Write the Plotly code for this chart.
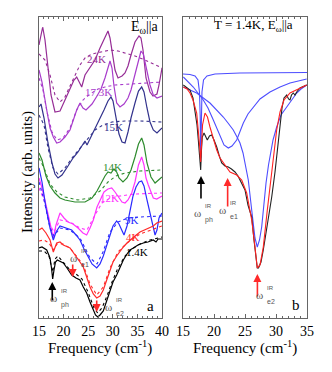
import plotly.graph_objects as go

# ---- panel a: spectra at several temperatures (freq in cm-1, intensity arb.) ----
f_24 = [15.00, 15.75, 16.22, 16.63, 17.44, 18.25, 19.27, 20.28, 21.30, 22.11, 22.66, 23.13, 23.68, 24.35, 25.37, 26.38,
        27.40, 28.21, 28.76, 29.02, 29.43, 29.84, 30.45, 31.06, 31.87, 32.48, 33.09, 33.70, 34.51, 35.33, 35.73, 36.14,
        36.75, 37.56, 38.17, 38.98, 39.39, 40.00]
i_24 = [275, 293, 280, 260, 225, 208, 209, 220, 232, 240, 243, 238, 233, 245, 252, 260,
        272, 280, 287, 289, 282, 268, 250, 242, 244, 247, 254, 265, 278, 284, 282, 270,
        242, 228, 224, 226, 235, 252]
f_24d = [15.00, 16.22, 17.24, 18.25, 19.27, 20.28, 21.30, 22.32, 23.33, 24.35, 25.77, 27.60, 29.43, 31.06, 32.48, 34.51, 36.54, 38.59, 40.00]
i_24d = [266, 260, 245, 225, 218, 223, 234, 245, 255, 262, 266, 268, 270, 269, 267, 264, 260, 255, 252]

f_17 = [15.00, 15.61, 16.57, 17.24, 17.91, 18.60, 19.27, 20.28, 21.30, 22.11, 22.66, 23.33, 23.94, 24.55, 25.77, 26.79,
        27.60, 28.41, 29.02, 29.43, 29.84, 30.24, 30.79, 31.46, 32.28, 33.09, 33.70, 34.51, 35.22, 35.73, 36.20, 36.75,
        37.56, 38.23, 38.98, 40.00]
i_17 = [250, 238, 210, 192, 183, 177, 178, 183, 190, 203, 210, 217, 212, 210, 216, 224,
        231, 242, 254, 259, 252, 234, 217, 213, 216, 222, 230, 246, 262, 269, 266, 254,
        235, 225, 222, 224]
f_17d = [15.00, 15.81, 16.63, 17.64, 18.66, 19.88, 21.30, 22.66, 23.94, 25.37, 27.00, 28.41, 30.45, 33.50, 36.54, 40.00]
i_17d = [242, 230, 208, 188, 180, 182, 192, 210, 220, 226, 231, 233, 235, 236, 237, 238]

f_15 = [15.00, 15.41, 16.02, 16.83, 17.64, 18.25, 18.86, 19.67, 20.89, 21.91, 22.93, 23.74, 24.35, 24.76, 25.37, 26.38,
        27.40, 28.21, 29.02, 29.63, 30.04, 30.65, 31.26, 31.87, 32.48, 33.09, 33.70, 34.51, 35.22, 35.87, 36.34, 36.95,
        37.56, 38.23, 38.98, 40.00]
i_15 = [213, 216, 202, 177, 157, 146, 142, 145, 154, 162, 168, 174, 179, 175, 181, 192,
        202, 210, 219, 223, 219, 202, 186, 178, 177, 188, 202, 217, 229, 233, 228, 212,
        198, 190, 187, 192]
f_15d = [15.00, 16.02, 16.83, 17.85, 18.86, 20.28, 21.71, 23.33, 24.96, 26.38, 28.01, 29.84, 32.48, 35.53, 40.00]
i_15d = [205, 195, 172, 152, 146, 152, 162, 172, 182, 190, 195, 198, 199, 199, 198]

f_14 = [15.00, 15.61, 16.42, 17.24, 18.25, 19.27, 20.28, 22.32, 24.35, 25.77, 26.79, 27.60, 28.41, 29.02, 29.63, 30.24,
        30.79, 31.26, 32.07, 32.89, 33.70, 34.51, 35.22, 35.87, 36.34, 36.95, 37.76, 38.59, 39.19, 40.00]
i_14 = [167, 160, 144, 134, 127, 122, 120, 118, 118, 122, 129, 137, 144, 148, 147, 151,
        148, 142, 138, 142, 150, 163, 176, 182, 175, 157, 143, 137, 140, 143]
f_14d = [15.00, 16.02, 17.24, 18.66, 20.28, 22.93, 25.37, 27.40, 29.02, 30.65, 32.48, 35.53, 40.00]
i_14d = [162, 152, 136, 128, 123, 120, 122, 129, 138, 144, 147, 149, 150]

f_12 = [15.00, 15.61, 16.42, 17.24, 17.91, 18.46, 19.27, 20.08, 20.89, 21.91, 22.93, 23.94, 24.69, 25.37, 26.04, 26.79,
        27.40, 28.21, 29.02, 29.78, 30.45, 31.12, 31.87, 32.48, 33.09, 33.84, 34.51, 35.22, 35.87, 36.34, 36.75, 37.22,
        37.76, 38.23, 38.93, 40.00]
i_12 = [142, 132, 115, 95, 82, 95, 107, 102, 98, 96, 92, 87, 85, 92, 100, 113,
        120, 128, 131, 132, 128, 123, 118, 117, 120, 127, 138, 155, 163, 155, 142, 135,
        127, 122, 121, 124]
f_12d = [15.00, 16.02, 17.24, 18.05, 19.27, 21.30, 23.33, 24.76, 26.38, 27.80, 29.43, 31.46, 34.51, 40.00]
i_12d = [132, 120, 95, 88, 100, 98, 92, 90, 105, 117, 122, 124, 126, 127]

f_9 = [15.00, 15.61, 16.42, 17.24, 17.91, 18.46, 19.27, 20.28, 21.65, 22.52, 23.33, 24.15, 25.02, 25.77, 26.73, 27.40,
       28.07, 28.82, 29.43, 30.04, 30.79, 31.26, 31.81, 32.28, 32.89, 33.50, 34.11, 34.72, 35.33, 35.87, 36.34, 36.95,
       37.56, 38.17, 38.59, 38.98, 39.39, 40.00]
i_9 = [152, 138, 112, 92, 80, 88, 94, 92, 90, 85, 80, 71, 63, 56, 52, 56,
       64, 76, 85, 94, 99, 96, 90, 85, 94, 110, 124, 133, 138, 139, 134, 120,
       106, 92, 85, 90, 102, 107]
f_9d = [15.00, 16.02, 17.24, 18.05, 19.27, 21.30, 23.33, 25.37, 26.79, 28.01, 29.43, 31.06, 33.09, 35.53, 40.00]
i_9d = [138, 120, 92, 84, 92, 90, 82, 62, 56, 68, 88, 98, 102, 103, 104]

f_4 = [15.00, 15.61, 16.42, 17.24, 17.91, 18.60, 19.27, 19.94, 21.30, 21.91, 22.66, 23.33, 24.00, 24.69, 25.37, 26.04,
       26.73, 27.40, 28.07, 28.76, 29.43, 30.04, 30.79, 31.46, 32.14, 32.89, 33.50, 34.51, 35.53, 36.54, 37.56, 38.23,
       38.93, 39.39, 40.00]
i_4 = [90, 92, 87, 80, 68, 77, 78, 75, 72, 68, 62, 58, 53, 42, 33, 26,
       22, 24, 30, 40, 50, 58, 64, 69, 73, 77, 80, 84, 88, 90, 92, 94,
       97, 98, 99]
f_4d = [15.00, 16.02, 17.03, 17.91, 18.66, 19.88, 21.30, 22.66, 24.00, 25.37, 26.73, 28.07, 29.43, 31.06, 32.89, 35.53, 37.56, 40.00]
i_4d = [79, 80, 77, 70, 76, 76, 72, 64, 55, 36, 25, 33, 52, 68, 77, 86, 90, 94]

f_1 = [15.00, 15.61, 16.57, 17.24, 17.54, 17.78, 18.05, 18.35, 18.72, 19.27, 19.94, 20.69, 21.65, 22.52, 23.33, 24.00,
       24.69, 25.37, 26.04, 26.48, 26.93, 27.40, 28.07, 28.76, 29.43, 30.04, 30.79, 31.46, 32.14, 32.89, 33.50, 34.17,
       35.12, 36.20, 37.15, 38.23, 38.78, 39.19, 40.00]
i_1 = [72, 73, 70, 62, 52, 41, 50, 58, 60, 59, 57, 52, 45, 42, 40, 33,
       27, 18, 10, 5, 3, 5, 9, 20, 30, 38, 45, 53, 60, 66, 70, 72,
       75, 77, 78, 80, 78, 81, 81]
f_1d = [15.00, 16.02, 17.03, 17.78, 18.25, 18.86, 19.88, 21.30, 22.52, 23.74, 24.96, 26.18, 26.93, 27.80, 28.82, 29.84,
        31.06, 32.48, 33.90, 35.53, 37.56, 40.00]
i_1d = [69, 69, 64, 48, 61, 64, 58, 50, 46, 41, 28, 12, 7, 12, 24, 38,
        52, 64, 71, 76, 80, 83]

# ---- panel b: 1.4 K spectrum, fit and three Lorentzian components ----
f_dat = [15.05, 15.65, 16.13, 16.61, 16.94, 17.26, 17.47, 17.66, 17.85, 17.98, 18.11, 18.39, 18.63, 18.92, 19.27, 19.63,
         20.00, 20.44, 20.81, 21.24, 21.77, 22.31, 22.82, 23.39, 23.87, 24.19, 24.47, 25.00, 25.48, 26.08, 26.45, 26.89,
         26.98, 27.18, 27.58, 27.95, 28.31, 28.60, 28.95, 29.31, 29.84, 30.32, 30.65, 30.97, 31.29, 31.73, 32.02, 32.26,
         32.50, 32.79, 33.06, 33.34, 33.87, 34.35, 34.95]
i_dat = [235, 232, 230, 222, 210, 195, 180, 165, 150, 170, 183, 187, 184, 180, 184, 185,
         180, 173, 165, 157, 154, 153, 151, 148, 144, 140, 138, 130, 115, 103, 80, 55,
         52, 52, 58, 70, 83, 95, 110, 123, 148, 175, 195, 212, 222, 225, 221, 220,
         225, 227, 225, 228, 232, 233, 235]
f_fit = [15.05, 15.65, 16.13, 16.61, 17.21, 17.50, 17.74, 17.85, 17.98, 18.15, 18.55, 18.95, 19.35, 19.84, 20.44, 20.97,
         21.50, 22.02, 22.58, 23.66, 24.47, 25.27, 26.08, 26.61, 26.98, 27.42, 27.95, 28.60, 29.03, 29.52, 30.11, 30.65,
         31.29, 32.26, 33.34, 34.19, 34.95]
i_fit = [233, 231, 227, 220, 207, 190, 170, 158, 175, 195, 207, 203, 193, 182, 170, 162,
         157, 153, 148, 145, 140, 127, 100, 73, 52, 55, 73, 110, 133, 160, 190, 208,
         220, 227, 230, 233, 235]
f_l1 = [15.00, 16.13, 16.94, 17.42, 17.66, 17.77, 17.85, 17.94, 18.06, 18.31, 18.87, 20.16, 24.19, 35.00]
i_l1 = [246, 245.5, 244, 240, 228, 205, 162, 205, 228, 240, 244, 246, 247, 247.5]
f_l2 = [15.05, 16.66, 18.27, 19.03, 19.89, 20.48, 20.97, 21.61, 22.31, 22.90, 23.66, 24.19, 24.73, 25.48, 26.34, 27.42,
        29.03, 30.65, 32.26, 34.95]
i_l2 = [243, 233, 220, 212, 200, 191, 183, 175, 172, 174, 180, 188, 197, 206, 213, 221,
        228, 233, 237, 241]
f_l3 = [15.05, 17.21, 19.35, 20.48, 21.50, 22.26, 23.11, 23.71, 24.19, 24.68, 25.00, 25.53, 26.08, 26.37, 26.61, 26.98,
        27.34, 27.69, 27.98, 28.39, 28.79, 29.03, 29.52, 30.11, 30.81, 31.73, 32.58, 33.34, 34.03, 34.95]
i_l3 = [233, 227, 217, 210, 203, 197, 190, 183, 177, 167, 157, 140, 110, 92, 82, 73,
        80, 93, 112, 137, 155, 163, 180, 193, 205, 213, 220, 227, 231, 235]

SERIF = "Liberation Serif, Times New Roman, DejaVu Serif, serif"
SANS = "Liberation Sans, Arial, sans-serif"
C24, C17, C15, C14, C12, C9, C4, C1 = "#962d96", "#a83ccc", "#32328c", "#2e8b2e", "#ff33ff", "#2a2aff", "#ff2a2a", "#000000"
GREY = "#555555"

fig = go.Figure()

def add(x, y, color, dash="solid", ax="x", ay="y", width=1.2):
    fig.add_trace(go.Scatter(x=x, y=y, mode="lines", xaxis=ax, yaxis=ay, hoverinfo="skip",
                             line=dict(color=color, width=width, dash=dash), showlegend=False))

for f, i, fd, idd, c in [(f_24, i_24, f_24d, i_24d, C24), (f_17, i_17, f_17d, i_17d, C17),
                         (f_15, i_15, f_15d, i_15d, C15), (f_14, i_14, f_14d, i_14d, C14),
                         (f_12, i_12, f_12d, i_12d, C12), (f_9, i_9, f_9d, i_9d, C9),
                         (f_4, i_4, f_4d, i_4d, C4), (f_1, i_1, f_1d, i_1d, C1)]:
    add(fd, idd, c, dash="dot", width=1.1)
    add(f, i, c)

BLUE = "#4d4dff"
add(f_l1, i_l1, BLUE, ax="x2", ay="y2", width=1.1)
add(f_l2, i_l2, BLUE, ax="x2", ay="y2", width=1.1)
add(f_l3, i_l3, BLUE, ax="x2", ay="y2", width=1.1)
add(f_dat, i_dat, "#222222", ax="x2", ay="y2", width=1.1)
add(f_fit, i_fit, "#ff2020", ax="x2", ay="y2", width=1.1)

ann = []
def txt(x, y, s, size, color="black", xr="x", yr="y", xa="center", ya="middle"):
    ann.append(dict(x=x, y=y, xref=xr, yref=yr, text=s, showarrow=False, xanchor=xa, yanchor=ya,
                    font=dict(family=SERIF, size=size, color=color)))

def arrow(x, y0, y1, color, xr="x", yr="y"):
    ann.append(dict(x=x, y=y1, ax=x, ay=y0, xref=xr, yref=yr, axref=xr, ayref=yr, text="",
                    showarrow=True, arrowhead=2, arrowsize=1, arrowwidth=1.6, arrowcolor=color))

def omega(x, y, sub, xr="x", yr="y"):
    # omega with stacked IR superscript and subscript
    ann.append(dict(x=x, y=y, xref=xr, yref=yr, text="ω", showarrow=False, xanchor="right", yanchor="middle",
                    font=dict(family=SERIF, size=11, color=GREY)))
    ann.append(dict(x=x, y=y, xref=xr, yref=yr, text="IR", showarrow=False, xanchor="left", yanchor="bottom",
                    yshift=2, font=dict(family=SANS, size=6, color=GREY)))
    ann.append(dict(x=x, y=y, xref=xr, yref=yr, text=sub, showarrow=False, xanchor="left", yanchor="top",
                    yshift=-1, font=dict(family=SANS, size=7, color=GREY)))

# panel a labels
txt(36.5, 293, "E<sub>ω</sub>||a", 14)
for x, y, s, c in [(26.7, 261, "24K", C24), (27.1, 228, "17.3K", C17), (30.1, 193, "15K", C15),
                   (30.0, 153, "14K", C14), (29.4, 122, "12K", C12), (33.9, 100, "9K", C9),
                   (34.2, 83, "4K", C4), (34.9, 68, "1.4K", C1)]:
    txt(x, y, s, 11, c)
arrow(17.7, 18, 38, "black")
arrow(21.85, 57, 43, C4)
arrow(26.73, 21, 8, C4)
omega(19.0, 22, "ph")
omega(23.2, 62, "e1")
omega(30.3, 13, "e2")
txt(37.6, 14, "a", 15)

# panel b labels
txt(26.3, 295, "T = 1.4K, E<sub>ω</sub>||a", 13, xr="x2", yr="y2")
arrow(17.9, 120, 144, "black", "x2", "y2")
arrow(22.2, 112, 142, C4, "x2", "y2")
arrow(27.0, 22, 46, C4, "x2", "y2")
omega(18.3, 107, "ph", "x2", "y2")
omega(22.3, 110, "e1", "x2", "y2")
omega(28.2, 25, "e2", "x2", "y2")
txt(33.3, 15, "b", 15, xr="x2", yr="y2")

# axis titles
ann.append(dict(x=27 / 332, y=0.5376, xref="paper", yref="paper", text="Intensity (arb. units)", textangle=-90,
                xanchor="center", yanchor="middle", showarrow=False,
                font=dict(family=SERIF, size=15, color="black")))
for xc in [100 / 332, 245 / 332]:
    ann.append(dict(x=xc, y=0.066, xref="paper", yref="paper", text="Frequency (cm<sup>-1</sup>)",
                    xanchor="center", yanchor="middle", showarrow=False,
                    font=dict(family=SERIF, size=15, color="black")))

xcommon = dict(showline=True, linecolor="#666666", linewidth=1, mirror="allticks", ticks="inside", ticklen=4,
               tickcolor="#666666", dtick=5, showgrid=False, zeroline=False, automargin=False,
               tickfont=dict(family=SERIF, size=14, color="black"),
               minor=dict(ticks="inside", ticklen=2, dtick=1, tickcolor="#666666", showgrid=False))
ycommon = dict(showline=True, linecolor="#666666", linewidth=1, mirror=True, ticks="", showticklabels=False,
               showgrid=False, zeroline=False, automargin=False, range=[2, 303], domain=[0.1452, 0.9543])

fig.update_layout(
    width=332, height=372, margin=dict(l=0, r=0, t=0, b=0, autoexpand=False),
    paper_bgcolor="white", plot_bgcolor="white", showlegend=False, hovermode=False,
    font=dict(family=SERIF, color="black"),
    xaxis=dict(xcommon, domain=[39 / 332, 162 / 332], range=[15, 40], anchor="y"),
    yaxis=dict(ycommon, anchor="x"),
    xaxis2=dict(xcommon, domain=[183 / 332, 307 / 332], range=[15, 35], anchor="y2"),
    yaxis2=dict(ycommon, anchor="x2"),
    annotations=ann,
)

fig.write_html("out.html", config={"displayModeBar": False},
               post_script="document.body.style.margin='0px';")
